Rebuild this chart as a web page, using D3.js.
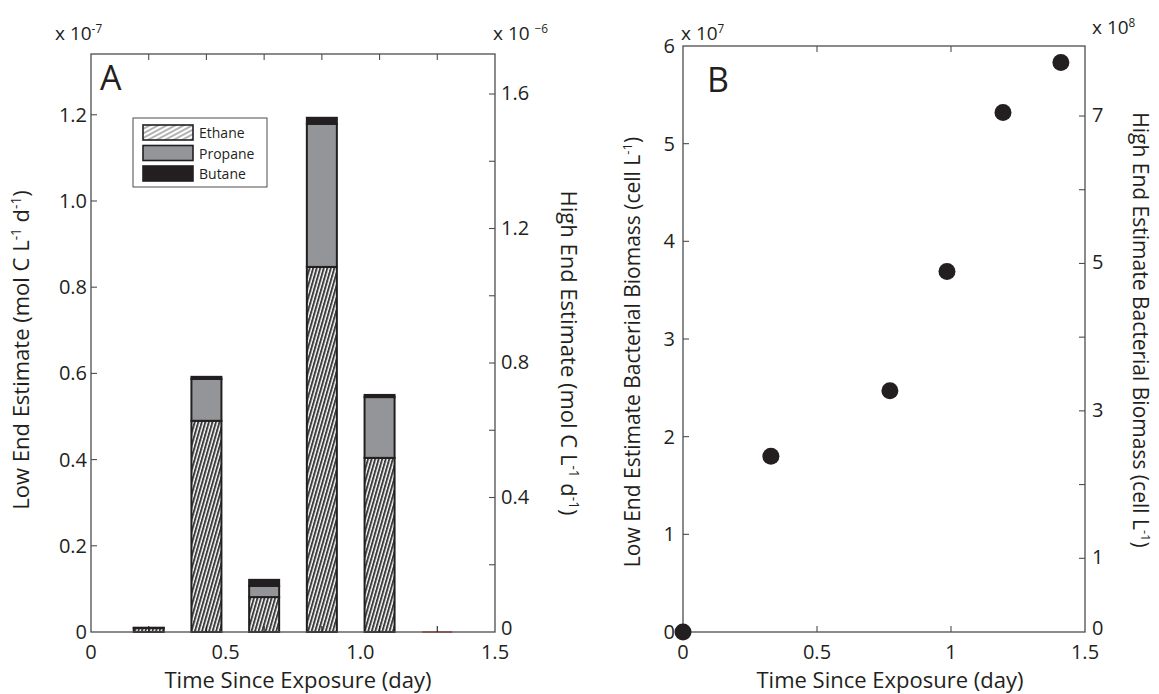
<!DOCTYPE html>
<html><head><meta charset="utf-8">
<script src="https://cdn.jsdelivr.net/npm/d3@7"></script>
<style>
body{margin:0;background:#fff;}
svg text{font-family:"Open Sans","Noto Sans",sans-serif;fill:#231f20;}
</style></head>
<body><svg id="c" width="1159" height="694"></svg>
<script>
// ---------- Data ----------
const categories = [1, 2, 3, 4, 5, 6];            // bar slots (x range 0..7)
const ethane  = [0.009, 0.490, 0.081, 0.847, 0.404, 0]; // x1e-7 mol C L-1 d-1
const propane = [0.000, 0.097, 0.026, 0.332, 0.141, 0];
const butane  = [0.001, 0.005, 0.014, 0.014, 0.005, 0];
const seriesNames = ["Ethane", "Propane", "Butane"];
const dayTicksA = [0, 0.5, 1.0, 1.5];
const dayTickLabelsA = ["0", "0.5", "1.0", "1.5"];
const leftTicksA = [0, 0.2, 0.4, 0.6, 0.8, 1.0, 1.2];
const leftTickLabelsA = ["0", "0.2", "0.4", "0.6", "0.8", "1.0", "1.2"];
const rightTicksA = [0, 0.2, 0.4, 0.6, 0.8, 1.0, 1.2, 1.4, 1.6];
const rightLabelsA = ["0", "", "0.4", "", "0.8", "", "1.2", "", "1.6"];

const timeB = [0, 0.328, 0.772, 0.985, 1.194, 1.41];     // day
const biomassB = [0, 1.80, 2.47, 3.69, 5.32, 5.83];       // x1e7 cell L-1
const dayTicksB = [0, 0.5, 1, 1.5];
const leftTicksB = [0, 1, 2, 3, 4, 5, 6];
const rightTicksB = [0, 1, 2, 3, 4, 5, 6, 7];
const rightLabelsB = ["0", "1", "", "3", "", "5", "", "7"];

// ---------- Setup ----------
const svg = d3.select("#c");
const ink = "#231f20", axisCol = "#4d4d4d";
const defs = svg.append("defs");
const pat = defs.append("pattern").attr("id","hatch").attr("patternUnits","userSpaceOnUse")
  .attr("width",3.4).attr("height",3.4).attr("patternTransform","rotate(16)");
pat.append("rect").attr("width",3.4).attr("height",3.4).attr("fill","#fff");
pat.append("line").attr("x1",1).attr("x2",1).attr("y1",0).attr("y2",3.4)
  .attr("stroke","#3d3d3d").attr("stroke-width",2.0);
const pat2 = defs.append("pattern").attr("id","hatchL").attr("patternUnits","userSpaceOnUse")
  .attr("width",4).attr("height",4).attr("patternTransform","rotate(62)");
pat2.append("rect").attr("width",4).attr("height",4).attr("fill","#fff");
pat2.append("line").attr("x1",1).attr("x2",1).attr("y1",0).attr("y2",4)
  .attr("stroke","#555").attr("stroke-width",0.9);

const fills = ["url(#hatch)", "#939598", ink];
const tickLen = 6;

function sup(sel, parts, size){
  parts.forEach(([t,s])=>{
    const ts = sel.append("tspan").text(t);
    if(s){ ts.attr("font-size",size*0.62).attr("dy",-size*0.38); }
    else { ts.attr("dy", sel.node().__lastSup ? size*0.38 : 0); }
    sel.node().__lastSup = s;
  });
}

// ---------- Panel A ----------
const A = {l:91, r:495, t:54, b:632};
const xCat = d3.scaleLinear().domain([0,7]).range([A.l, A.r]);
const xDayA = d3.scaleLinear().domain([0,1.5]).range([A.l, A.r]);
const yA = d3.scaleLinear().domain([0,1.341]).range([A.b, A.t]);
const yA2 = d3.scaleLinear().domain([0,1.719]).range([A.b, A.t]);
const gA = svg.append("g");

const stackData = categories.map((c,i)=>({c, ethane:ethane[i], propane:propane[i], butane:butane[i]}));
const stack = d3.stack().keys(["ethane","propane","butane"])(stackData);
const barW = 0.52;
stack.forEach((layer,k)=>{
  gA.append("g").selectAll("rect").data(layer.filter(d=>d[1]-d[0]>0)).join("rect")
    .attr("x", d=>xCat(d.data.c-barW/2))
    .attr("width", d=>xCat(barW)-xCat(0))
    .attr("y", d=>yA(d[1]))
    .attr("height", d=>yA(d[0])-yA(d[1]))
    .attr("fill", fills[k]).attr("stroke", ink).attr("stroke-width",2);
});
const emptySlots = stackData.filter(d=>d.ethane+d.propane+d.butane===0);
gA.append("g").selectAll("line").data(emptySlots).join("line")
  .attr("x1", d=>xCat(d.c-barW/2)).attr("x2", d=>xCat(d.c+barW/2))
  .attr("y1", yA(0)).attr("y2", yA(0)).attr("stroke","#e0443a").attr("stroke-width",1.5);

gA.append("rect").attr("x",A.l).attr("y",A.t).attr("width",A.r-A.l).attr("height",A.b-A.t)
  .attr("fill","none").attr("stroke",axisCol).attr("stroke-width",1.3);
const tA = gA.append("g").attr("stroke",axisCol).attr("stroke-width",1.1);
leftTicksA.slice(1).forEach(v=>tA.append("line").attr("x1",A.l).attr("x2",A.l+tickLen).attr("y1",yA(v)).attr("y2",yA(v)));
rightTicksA.slice(1).forEach(v=>tA.append("line").attr("x1",A.r).attr("x2",A.r-tickLen).attr("y1",yA2(v)).attr("y2",yA2(v)));
categories.forEach(c=>{
  tA.append("line").attr("x1",xCat(c)).attr("x2",xCat(c)).attr("y1",A.t).attr("y2",A.t+tickLen);
  tA.append("line").attr("x1",xCat(c)).attr("x2",xCat(c)).attr("y1",A.b).attr("y2",A.b-tickLen).attr("stroke",ink);
});
gA.append("g").selectAll("text").data(leftTicksA).join("text")
  .attr("x",A.l-4).attr("y",d=>yA(d)+7).attr("text-anchor","end").attr("font-size",20)
  .text((d,i)=>leftTickLabelsA[i]);
gA.append("g").selectAll("text").data(rightTicksA).join("text")
  .attr("x",A.r+6).attr("y",d=>yA2(d)+(d===0?3:6)).attr("font-size",20)
  .text((d,i)=>rightLabelsA[i]);
gA.append("g").selectAll("text").data(dayTicksA).join("text")
  .attr("x",d=>xDayA(d)).attr("y",A.b+27).attr("text-anchor","middle").attr("font-size",20)
  .text((d,i)=>dayTickLabelsA[i]);
let t = gA.append("text").attr("x",55).attr("y",40).attr("font-size",19);
sup(t, [["x 10",false],["-7",true]], 19);
t = gA.append("text").attr("x",493).attr("y",40).attr("font-size",19);
sup(t, [["x 10 ",false],["\u22126",true]], 19);
gA.append("text").attr("x",100).attr("y",90).attr("font-size",34).text("A");
gA.append("text").attr("x",A.l+(A.r-A.l)/2+5).attr("y",688).attr("text-anchor","middle").attr("font-size",22)
  .text("Time Since Exposure (day)");
t = gA.append("text").attr("transform","translate(29,350) rotate(-90)").attr("text-anchor","middle").attr("font-size",22);
sup(t, [["Low End Estimate (mol C L",false],["-1",true],[" d",false],["-1",true],[")",false]], 22);
t = gA.append("text").attr("transform","translate(561,353) rotate(90)").attr("text-anchor","middle").attr("font-size",22);
sup(t, [["High End Estimate (mol C L",false],["-1",true],[" d",false],["-1",true],[")",false]], 22);

const lg = gA.append("g");
lg.append("rect").attr("x",133).attr("y",118).attr("width",134).attr("height",69)
  .attr("fill","#fff").attr("stroke",axisCol).attr("stroke-width",1);
const legFills = ["url(#hatchL)", "#939598", ink];
seriesNames.forEach((n,i)=>{
  lg.append("rect").attr("x",143).attr("y",125+i*20.5).attr("width",50).attr("height",15)
    .attr("fill",legFills[i]).attr("stroke",ink).attr("stroke-width",1.6);
  lg.append("text").attr("x",199).attr("y",138+i*20.5).attr("font-size",14).text(n);
});

// ---------- Panel B ----------
const B = {l:683, r:1085, t:46, b:632};
const xB = d3.scaleLinear().domain([0,1.5]).range([B.l, B.r]);
const yB = d3.scaleLinear().domain([0,6]).range([B.b, B.t]);
const yB2 = d3.scaleLinear().domain([0,7.95]).range([B.b, B.t]);
const gB = svg.append("g");
gB.append("rect").attr("x",B.l).attr("y",B.t).attr("width",B.r-B.l).attr("height",B.b-B.t)
  .attr("fill","none").attr("stroke",axisCol).attr("stroke-width",1.3);
const tB = gB.append("g").attr("stroke",axisCol).attr("stroke-width",1.1);
leftTicksB.slice(1,-1).forEach(v=>tB.append("line").attr("x1",B.l).attr("x2",B.l+tickLen).attr("y1",yB(v)).attr("y2",yB(v)));
rightTicksB.slice(1).forEach(v=>tB.append("line").attr("x1",B.r).attr("x2",B.r-tickLen).attr("y1",yB2(v)).attr("y2",yB2(v)));
dayTicksB.slice(1,-1).forEach(v=>{
  tB.append("line").attr("x1",xB(v)).attr("x2",xB(v)).attr("y1",B.t).attr("y2",B.t+tickLen);
  tB.append("line").attr("x1",xB(v)).attr("x2",xB(v)).attr("y1",B.b).attr("y2",B.b-tickLen);
});
gB.append("g").selectAll("text").data(leftTicksB).join("text")
  .attr("x",B.l-8).attr("y",d=>yB(d)+7).attr("text-anchor","end").attr("font-size",20).text(d=>d);
gB.append("g").selectAll("text").data(rightTicksB).join("text")
  .attr("x",B.r+7).attr("y",d=>yB2(d)+(d===0?3:6)).attr("font-size",20).text((d,i)=>rightLabelsB[i]);
gB.append("g").selectAll("text").data(dayTicksB).join("text")
  .attr("x",d=>xB(d)).attr("y",B.b+27).attr("text-anchor","middle").attr("font-size",20).text(d=>d);
gB.append("g").selectAll("circle").data(timeB).join("circle")
  .attr("cx",d=>xB(d)).attr("cy",(d,i)=>yB(biomassB[i])).attr("r",8.5).attr("fill",ink);
t = gB.append("text").attr("x",681).attr("y",40).attr("font-size",19);
sup(t, [["x 10",false],["7",true]], 19);
t = gB.append("text").attr("x",1092).attr("y",34).attr("font-size",19);
sup(t, [["x 10",false],["8",true]], 19);
gB.append("text").attr("x",707).attr("y",92).attr("font-size",34).text("B");
gB.append("text").attr("x",(B.l+B.r)/2+6).attr("y",688).attr("text-anchor","middle").attr("font-size",22)
  .text("Time Since Exposure (day)");
t = gB.append("text").attr("transform","translate(640,352) rotate(-90)").attr("text-anchor","middle").attr("font-size",21);
sup(t, [["Low End Estimate Bacterial Biomass (cell L",false],["-1",true],[")",false]], 21);
t = gB.append("text").attr("transform","translate(1133,330) rotate(90)").attr("text-anchor","middle").attr("font-size",21);
sup(t, [["High End Estimate Bacterial Biomass (cell L",false],["-1",true],[")",false]], 21);
</script></body></html>
